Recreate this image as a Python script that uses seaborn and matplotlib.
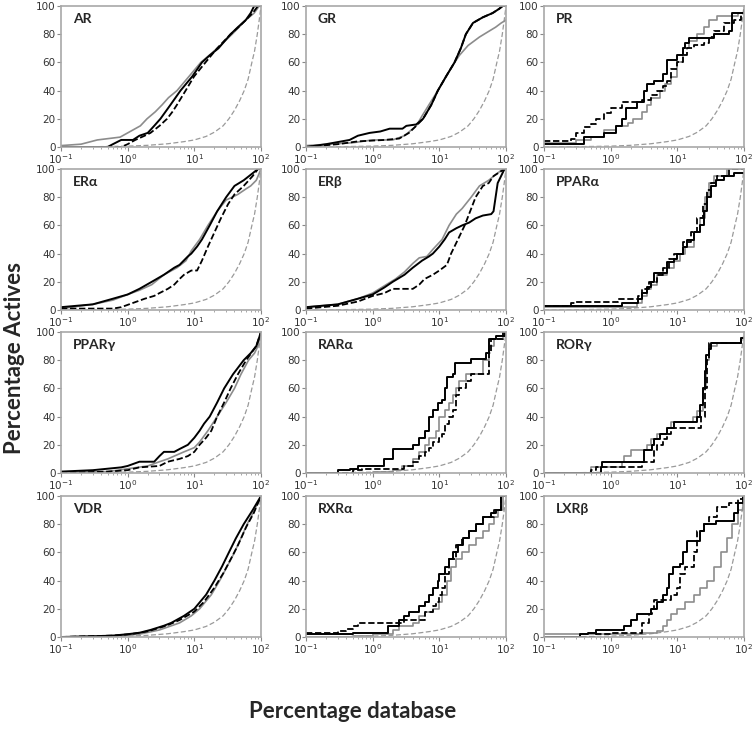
import seaborn as sns
import matplotlib.pyplot as plt
import pandas as pd

sns.set_style("white")
plt.rcParams["font.family"] = ["DejaVu Sans"]

# (percentage database, percentage actives)
RANDOM = [(0.1, 0), (0.3, 0.2), (1, 0.6), (2, 1.2), (4, 2.3), (7, 3.8), (10, 5), (15, 7.5),
          (20, 10.5), (27, 15), (33, 20), (40, 26), (48, 33), (56, 40), (64, 48), (73, 60),
          (80, 68), (88, 80), (94, 90), (100, 100)]

AR_SOLID = [(0.1, 0), (0.5, 0), (0.6, 2), (0.8, 5), (1.2, 5), (1.5, 8), (2, 10), (2.5, 15), (3.1, 20),
            (4.4, 30), (6.2, 40), (9.3, 50), (13, 60), (17, 65), (23, 70), (35, 80), (45, 85), (59, 90),
            (70, 95), (79, 100), (100, 100)]
AR_DASH = [(0.1, 0), (0.8, 0), (1.0, 2), (1.3, 5), (1.8, 8), (2.2, 10), (3, 15), (3.9, 20), (4.7, 25),
           (5.5, 30), (7.4, 40), (9.9, 50), (14.7, 60), (22, 70), (35, 80), (46, 85), (59, 90), (75, 95),
           (90, 100), (100, 100)]
AR_GRAY = [(0.1, 1), (0.2, 2), (0.35, 5), (0.77, 7), (1.0, 10), (1.55, 15), (1.95, 20), (2.6, 25), (3.3, 30),
           (4.1, 35), (5.5, 40), (8.3, 50), (12.5, 60), (16.7, 65), (22, 70), (37, 80), (59, 90),
           (79, 95), (94, 100), (100, 100)]

GR_SOLID = [(0.1, 0), (0.2, 2), (0.45, 5), (0.6, 8), (0.9, 10), (1.3, 11), (1.8, 13), (2.8, 13),
            (3.2, 15), (4.5, 16), (5.7, 20), (7.6, 30), (9.5, 40), (12.6, 50), (16.9, 60), (21, 70),
            (25, 80), (32, 88), (45, 92), (63, 95), (79, 98), (89, 100), (100, 100)]
GR_DASH = [(0.1, 0), (0.3, 2), (0.6, 4), (1.5, 5), (2.5, 6), (3.5, 10), (4.5, 15), (5.7, 20), (7.6, 30),
           (9.5, 40), (12.6, 50), (16.9, 60), (21, 70), (25, 80), (32, 88), (45, 92), (63, 95), (79, 98),
           (89, 100), (100, 100)]
GR_GRAY = [(0.1, 1), (0.5, 3), (1, 5), (2, 5), (3, 8), (4.5, 15), (5.5, 22), (7, 30), (9.5, 40),
           (12.6, 50), (17, 60), (20, 65), (27, 72), (40, 78), (55, 82), (70, 85), (85, 88), (100, 90)]

PR_SOLID = [(0.1, 2), (0.4, 7), (0.8, 10), (1.2, 15), (1.5, 20), (1.7, 28), (2.5, 32), (3.2, 40),
            (3.5, 45), (4.5, 47), (6, 52), (7, 62), (10, 65), (12, 70), (13, 74), (15, 77), (35, 80),
            (60, 82), (67, 95), (100, 97)]
PR_DASH = [(0.1, 4), (0.25, 6), (0.3, 10), (0.4, 14), (0.5, 16), (0.6, 20), (0.8, 24), (1.0, 28),
           (1.5, 32), (3, 33), (4, 37), (5, 40), (6, 43), (7, 47), (8, 55), (10, 60), (12, 65), (14, 70),
           (18, 72), (25, 74), (30, 78), (35, 82), (50, 88), (70, 90), (90, 95), (100, 95)]
PR_GRAY = [(0.1, 3), (0.3, 5), (0.5, 7), (0.8, 12), (1.2, 15), (1.8, 17), (2.2, 20), (3, 25), (3.5, 30),
           (4, 35), (5.5, 40), (6.5, 45), (8, 50), (10, 60), (12, 70), (15, 75), (20, 80), (25, 85),
           (30, 90), (40, 93), (80, 95), (100, 97)]

ERA_SOLID = [(0.1, 2), (0.3, 4), (0.6, 8), (1, 11), (1.5, 15), (2.3, 20), (3.5, 25), (5, 30), (6, 32),
             (8, 38), (9, 40), (11, 45), (13, 50), (17, 60), (22, 70), (30, 80), (40, 88), (55, 92),
             (75, 97), (90, 100), (100, 100)]
ERA_DASH = [(0.1, 1), (0.6, 1), (0.8, 2), (1.2, 5), (1.8, 8), (2.5, 10), (3, 12), (4, 15), (5, 18),
            (6, 22), (7, 25), (9, 28), (11, 28), (13, 35), (16, 45), (20, 55), (25, 65), (32, 75),
            (40, 82), (55, 88), (75, 95), (90, 100), (100, 100)]
ERA_GRAY = [(0.1, 1), (0.3, 4), (0.6, 7), (1, 11), (1.5, 14), (2.3, 18), (3.5, 25), (5.5, 30), (7.5, 35),
            (9, 42), (12, 50), (16, 60), (22, 70), (30, 78), (45, 82), (60, 86), (70, 88), (85, 92),
            (100, 100)]

ERB_SOLID = [(0.1, 2), (0.3, 4), (0.6, 8), (1, 11), (1.5, 16), (2, 20), (3, 25), (4, 30), (5.5, 35),
             (7, 38), (8, 40), (10, 45), (12, 50), (14, 55), (18, 58), (22, 60), (28, 62), (35, 65),
             (45, 67), (60, 68), (65, 70), (75, 90), (95, 100), (100, 100)]
ERB_DASH = [(0.1, 1), (0.3, 3), (0.6, 6), (1, 10), (1.5, 12), (2, 15), (4, 15), (5, 18), (6, 22),
            (8, 25), (10, 28), (13, 32), (15, 40), (19, 50), (24, 60), (29, 70), (35, 80), (45, 88),
            (55, 90), (65, 95), (95, 100), (100, 100)]
ERB_GRAY = [(0.1, 2), (0.3, 4), (0.6, 8), (1, 12), (1.6, 18), (2.2, 22), (3, 27), (4, 33), (5, 37),
            (6.5, 38), (8, 43), (11, 50), (14, 60), (18, 68), (22, 72), (30, 80), (40, 88), (55, 92),
            (70, 96), (90, 100), (100, 100)]

PPARA_SOLID = [(0.1, 3), (1.5, 5), (2.6, 8), (3, 12), (3.5, 16), (4, 20), (4.5, 26), (7, 34), (9, 36),
               (10, 40), (12, 45), (14, 50), (18, 55), (22, 60), (25, 70), (28, 80), (32, 88), (38, 92),
               (50, 95), (70, 97), (100, 97)]
PPARA_DASH = [(0.1, 3), (0.25, 5), (0.3, 6), (1.3, 8), (2.6, 10), (3, 15), (3.8, 20), (5, 25), (6, 30),
              (7.5, 36), (9, 40), (12, 48), (16, 55), (20, 65), (24, 75), (28, 85), (32, 90), (40, 95),
              (60, 100), (100, 100)]
PPARA_GRAY = [(0.1, 2), (1.5, 2), (2.5, 5), (3, 10), (3.5, 15), (4, 18), (5, 25), (7, 30), (9, 35),
              (11, 40), (13, 45), (18, 55), (22, 65), (26, 80), (30, 90), (35, 95), (55, 100), (100, 100)]

PPARG_SOLID = [(0.1, 1), (0.3, 2), (0.8, 4), (1.0, 5), (1.5, 8), (2.5, 8), (3, 12), (3.5, 15), (5, 15),
               (6, 17), (8, 20), (10, 25), (12, 30), (14, 35), (17, 40), (22, 50), (28, 60), (38, 70),
               (55, 80), (70, 85), (85, 90), (100, 100)]
PPARG_DASH = [(0.1, 0), (0.5, 1), (1, 2), (1.5, 4), (3, 5), (4, 8), (6, 10), (8, 12), (10, 15), (12, 20),
              (15, 25), (18, 30), (22, 40), (28, 50), (35, 60), (45, 70), (60, 80), (85, 90), (100, 100)]
PPARG_GRAY = [(0.1, 0.5), (0.5, 1), (1, 3), (2, 5), (3, 8), (4, 10), (5, 12), (7, 15), (10, 18),
              (12, 22), (16, 30), (22, 40), (30, 50), (40, 60), (50, 70), (65, 80), (80, 85), (90, 90),
              (100, 100)]

RARA_SOLID = [(0.1, 0), (0.3, 2), (0.45, 3), (0.6, 5), (1.5, 10), (2.0, 17), (4, 20), (5, 25), (6, 30),
              (7, 40), (8, 45), (9.5, 50), (11, 52), (12, 60), (13, 68), (16, 70), (17, 78), (30, 81),
              (50, 85), (55, 95), (70, 97), (95, 100), (100, 100)]
RARA_DASH = [(0.1, 0), (0.5, 2), (0.7, 3), (3, 5), (4, 8), (5, 12), (6, 15), (7, 18), (8, 22), (10, 25),
             (11, 28), (12, 35), (14, 40), (16, 45), (18, 55), (20, 60), (25, 65), (30, 70), (55, 85),
             (60, 95), (90, 100), (100, 100)]
RARA_GRAY = [(0.1, 0), (1, 1), (2, 2), (2.8, 5), (4, 10), (5, 15), (6, 20), (7, 25), (9, 30), (10, 40),
             (12, 45), (14, 50), (16, 55), (18, 60), (20, 65), (25, 70), (45, 80), (55, 90), (65, 95),
             (90, 100), (100, 100)]

RORG_SOLID = [(0.1, 0), (0.72, 4), (0.75, 8), (3.2, 16), (4.2, 20), (4.5, 24), (5.5, 28), (7, 32),
              (9, 36), (20, 40), (22, 48), (24, 60), (26, 72), (27, 84), (30, 88), (32, 92), (90, 96),
              (100, 96)]
RORG_DASH = [(0.1, 0), (0.5, 2), (0.6, 4), (3, 8), (4.5, 16), (5, 20), (6, 24), (7, 28), (8, 32),
             (23, 40), (26, 60), (28, 80), (30, 92), (90, 96), (100, 96)]
RORG_GRAY = [(0.1, 0), (0.5, 4), (1.5, 8), (1.6, 12), (2.0, 16), (3.5, 20), (4, 24), (5, 28), (7, 32),
             (8, 36), (17, 40), (20, 44), (24, 60), (27, 80), (30, 90), (40, 92), (90, 96), (100, 96)]

VDR_SOLID = [(0.1, 0), (0.3, 0.5), (0.6, 1), (1.0, 2), (1.5, 3), (2.2, 5), (3.5, 8), (4.5, 10), (7, 15),
             (10, 20), (15, 30), (20, 40), (26, 50), (33, 60), (42, 70), (55, 80), (75, 90), (100, 100)]
VDR_DASH = [(0.1, 0), (0.6, 1), (1.1, 2), (2, 4), (3.8, 8), (6, 12), (10, 18), (14, 25), (20, 35),
            (27, 45), (35, 55), (45, 65), (60, 78), (78, 88), (100, 100)]
VDR_GRAY = [(0.1, 0), (0.8, 1), (1.5, 2), (3, 5), (6, 10), (9, 15), (12, 20), (18, 30), (24, 40),
            (31, 50), (40, 60), (50, 70), (62, 80), (80, 90), (100, 100)]

RXRA_SOLID = [(0.1, 2), (0.5, 3), (1.7, 8), (2.5, 12), (3, 15), (3.5, 18), (5, 22), (6, 25), (7, 30),
              (8, 35), (9.5, 40), (10, 45), (12, 50), (14, 55), (16, 60), (19, 65), (23, 70), (28, 75),
              (35, 80), (45, 85), (60, 88), (70, 90), (85, 100), (100, 100)]
RXRA_DASH = [(0.1, 3), (0.3, 4), (0.4, 6), (0.5, 8), (0.6, 10), (3, 12), (6, 18), (8, 22), (9, 25),
             (10, 30), (11, 35), (12, 45), (14, 55), (18, 65), (22, 70), (28, 75), (35, 80), (45, 85),
             (65, 90), (85, 100), (100, 100)]
RXRA_GRAY = [(0.1, 0), (0.5, 1), (1, 2), (2, 5), (2.5, 8), (4, 10), (5, 15), (6, 18), (8, 20), (10, 25),
             (11, 30), (13, 40), (15, 50), (18, 55), (22, 60), (28, 65), (35, 70), (45, 75), (55, 80),
             (65, 85), (75, 90), (90, 100), (100, 100)]

LXRB_SOLID = [(0.1, 0), (0.35, 2), (0.45, 3), (0.6, 5), (1.6, 8), (2.0, 12), (2.5, 16), (4, 20), (5, 25),
              (6, 30), (7, 35), (7.5, 45), (8.5, 50), (11, 52), (12, 60), (14, 68), (22, 75), (25, 80),
              (38, 82), (70, 88), (80, 95), (95, 100), (100, 100)]
LXRB_DASH = [(0.1, 0), (0.6, 2), (1, 3), (3, 10), (3.8, 16), (4.2, 20), (4.5, 26), (8, 30), (10, 35),
             (11, 45), (13, 50), (18, 60), (20, 75), (25, 80), (30, 85), (40, 92), (60, 95), (80, 98),
             (95, 100), (100, 100)]
LXRB_GRAY = [(0.1, 2), (3, 3), (5, 4), (6, 8), (7, 12), (8, 16), (10, 20), (13, 25), (18, 30), (22, 35),
             (28, 40), (35, 50), (45, 60), (55, 70), (65, 80), (80, 90), (95, 100), (100, 100)]

NAMES = ["AR", "GR", "PR", "ERα", "ERβ", "PPARα", "PPARγ", "RARα", "RORγ", "VDR", "RXRα", "LXRβ"]
SOLID = [AR_SOLID, GR_SOLID, PR_SOLID, ERA_SOLID, ERB_SOLID, PPARA_SOLID,
         PPARG_SOLID, RARA_SOLID, RORG_SOLID, VDR_SOLID, RXRA_SOLID, LXRB_SOLID]
DASH = [AR_DASH, GR_DASH, PR_DASH, ERA_DASH, ERB_DASH, PPARA_DASH,
        PPARG_DASH, RARA_DASH, RORG_DASH, VDR_DASH, RXRA_DASH, LXRB_DASH]
GRAY = [AR_GRAY, GR_GRAY, PR_GRAY, ERA_GRAY, ERB_GRAY, PPARA_GRAY,
        PPARG_GRAY, RARA_GRAY, RORG_GRAY, VDR_GRAY, RXRA_GRAY, LXRB_GRAY]
# small data sets show clear staircases
STEPPED = {"PR", "PPARα", "RARα", "RORγ", "LXRβ", "RXRα"}

W, H = 755, 744
col_left = [61, 306, 544]
row_top = [6, 169, 332, 496]
aw, ah = 200, 141

fig = plt.figure(figsize=(W / 100, H / 100), dpi=100)


def draw(ax, pts, ds, **kw):
    df = pd.DataFrame(pts, columns=["x", "y"])
    sns.lineplot(data=df, x="x", y="y", ax=ax, estimator=None, sort=False,
                 drawstyle=ds, **kw)


for i, name in enumerate(NAMES):
    r, c = divmod(i, 3)
    ax = fig.add_axes([col_left[c] / W, 1 - (row_top[r] + ah) / H, aw / W, ah / H])
    ds = "steps-post" if name in STEPPED else "default"
    draw(ax, RANDOM, "default", color="#9a9a9a", lw=0.9, linestyle=(0, (4, 2)))
    draw(ax, GRAY[i], ds, color="#8c8c8c", lw=1.2)
    draw(ax, DASH[i], ds, color="black", lw=1.3, linestyle=(0, (3.5, 1.5)))
    draw(ax, SOLID[i], ds, color="black", lw=1.4)

    ax.set_xscale("log")
    ax.set_xlim(0.1, 100)
    ax.set_ylim(0, 100)
    ax.set_yticks([0, 20, 40, 60, 80, 100])
    ax.set_xlabel("")
    ax.set_ylabel("")
    for s in ax.spines.values():
        s.set_color("#a8a8a8")
        s.set_linewidth(1.2)
    ax.tick_params(axis="both", which="major", length=3, width=0.8, color="#888888",
                   labelsize=7.5, labelcolor="#333333", pad=1, left=True, bottom=True)
    ax.tick_params(axis="x", which="minor", length=1.5, width=0.6, color="#999999", bottom=True)
    ax.text(0.06, 0.95, name, transform=ax.transAxes, ha="left", va="top",
            fontsize=10, fontweight="bold", family=["Lato", "DejaVu Sans"])

fig.text(15 / W, 1 - 358 / H, "Percentage Actives", rotation=90, ha="center", va="center",
         fontsize=16, fontweight="bold", family=["Lato", "DejaVu Sans"])
fig.text(353 / W, 1 - 712 / H, "Percentage database", ha="center", va="center",
         fontsize=16, fontweight="bold", family=["Lato", "DejaVu Sans"])

fig.savefig("out.png", dpi=100)
